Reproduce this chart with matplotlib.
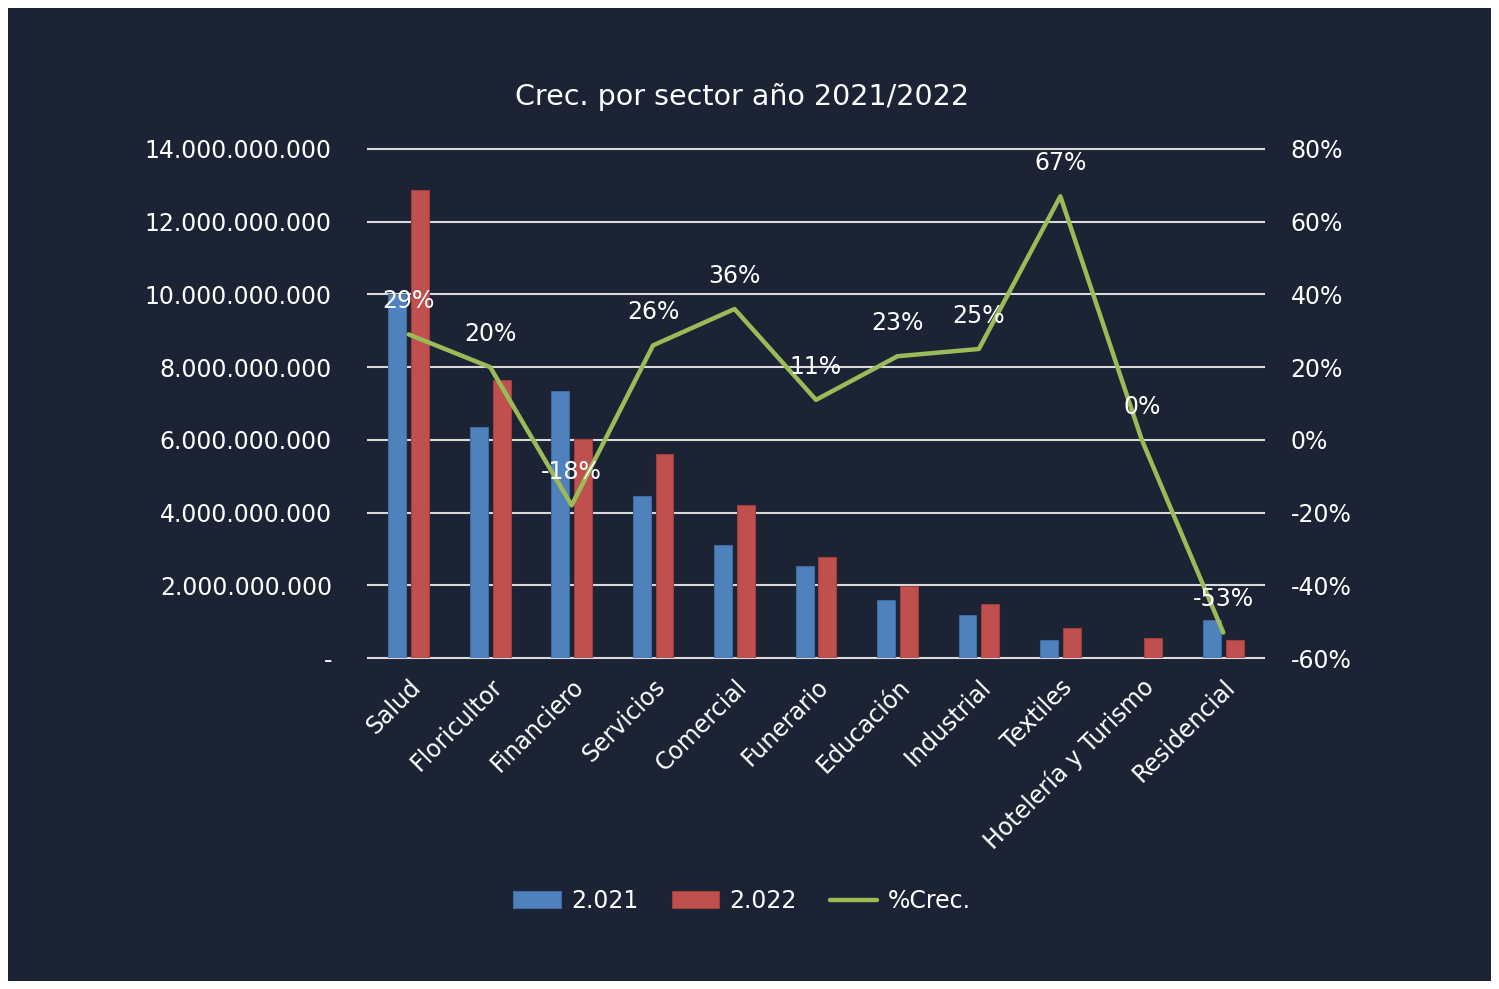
import matplotlib
matplotlib.use("Agg")
import matplotlib.pyplot as plt
from matplotlib.patches import Rectangle
from matplotlib.ticker import FuncFormatter, FixedLocator
import numpy as np

categories = ["Salud", "Floricultor", "Financiero", "Servicios", "Comercial",
              "Funerario", "Educación", "Industrial", "Textiles",
              "Hotelería y Turismo", "Residencial"]
v2021 = [10.0e9, 6.35e9, 7.34e9, 4.46e9, 3.11e9, 2.53e9, 1.60e9, 1.18e9, 0.50e9, 0.0, 1.05e9]
v2022 = [12.87e9, 7.65e9, 6.02e9, 5.61e9, 4.21e9, 2.78e9, 1.98e9, 1.49e9, 0.83e9, 0.55e9, 0.50e9]
crec = [0.29, 0.20, -0.18, 0.26, 0.36, 0.11, 0.23, 0.25, 0.67, 0.00, -0.53]
legend_labels = ["2.021", "2.022", "%Crec."]
title = "Crec. por sector año 2021/2022"

BG = "#1b2334"
BLUE = "#4f81bd"
RED = "#c0504d"
GREEN = "#9bbb59"
GRID = "#d9d9d9"
FS = 17
plt.rcParams['font.family'] = ["DejaVu Sans"]

fig = plt.figure(figsize=(14.99, 9.89), dpi=100)
fig.patch.set_facecolor("white")
fig.patches.append(Rectangle((8/1499, 1-981/989), (1491-8)/1499, (981-8)/989,
                             transform=fig.transFigure, facecolor=BG, edgecolor="none", zorder=-10))

ax = fig.add_axes([368/1499, 1-658/989, (1264-368)/1499, (658-149)/989])
ax.set_facecolor("none")
x = np.arange(len(categories))
w = 0.22
off = 0.14
b1 = ax.bar(x - off, v2021, w, color=BLUE, edgecolor="#3f6a9e", linewidth=0.8, zorder=3, label=legend_labels[0])
b2 = ax.bar(x + off, v2022, w, color=RED, edgecolor="#9e3f3d", linewidth=0.8, zorder=3, label=legend_labels[1])
ax.set_xlim(-0.5, len(categories) - 0.5)
ax.set_ylim(0, 14e9)
ax.yaxis.set_major_locator(FixedLocator(np.arange(0, 14.1e9, 2e9)))

def fmt_left(v, pos):
    if abs(v) < 1:
        return "-"
    return f"{int(round(v)):,}".replace(",", ".")
ax.yaxis.set_major_formatter(FuncFormatter(fmt_left))
ax.grid(axis="y", color=GRID, linewidth=1.5, zorder=0)
for gl in ax.get_ygridlines():
    gl.set_clip_on(False)
ax.set_axisbelow(True)
for s in ax.spines.values():
    s.set_visible(False)
ax.tick_params(axis="both", length=0, colors="white", labelsize=FS)
ax.tick_params(axis="y", pad=26)
ax.set_xticks(x)
ax.set_xticklabels(categories, rotation=45, ha="right", va="top", rotation_mode="anchor", fontsize=FS, color="white")
ax.tick_params(axis="x", pad=12)

ax2 = ax.twinx()
ax2.set_ylim(-0.6, 0.8)
ax2.yaxis.set_major_locator(FixedLocator(np.arange(-0.6, 0.81, 0.2)))
ax2.yaxis.set_major_formatter(FuncFormatter(lambda v, p: f"{round(v*100):.0f}%"))
for s in ax2.spines.values():
    s.set_visible(False)
ax2.tick_params(axis="y", length=0, colors="white", labelsize=FS, pad=19)
line, = ax2.plot(x, crec, color=GREEN, linewidth=3.2, solid_capstyle="round", zorder=5, label=legend_labels[2])
for xi, c in zip(x, crec):
    ax2.annotate(f"{round(c*100):.0f}%", (xi, c), xytext=(0, 24), textcoords="offset points",
                 ha="center", va="center", color="white", fontsize=FS, zorder=6)

fig.text(742/1499, 1-97/989, title, ha="center", va="center", color="white", fontsize=20.5)

leg = fig.legend([b1, b2, line], legend_labels, loc="center", bbox_to_anchor=(742/1499, 1-901/989),
                 ncol=3, frameon=False, fontsize=FS, labelcolor="white",
                 handlelength=2.0, handleheight=0.7, columnspacing=1.4, handletextpad=0.45)

fig.savefig("out.png", dpi=100, facecolor=fig.get_facecolor())
